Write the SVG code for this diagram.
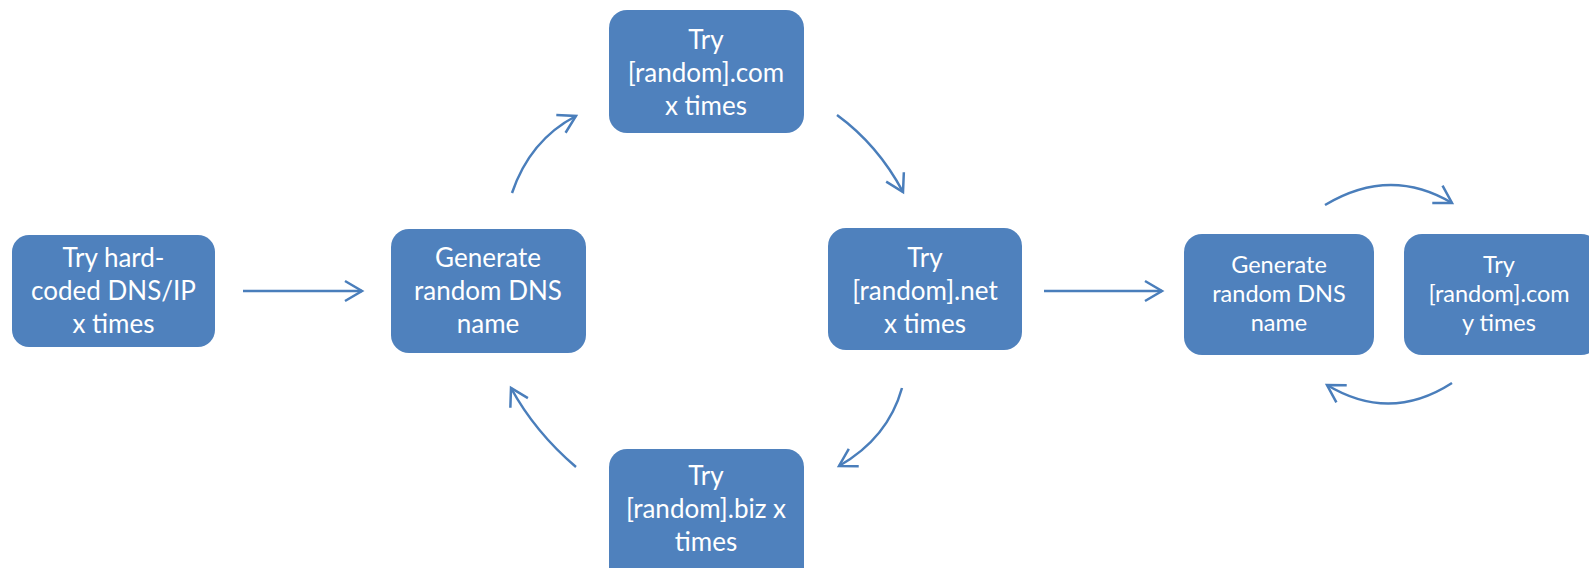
<svg xmlns="http://www.w3.org/2000/svg" width="1589" height="568" viewBox="0 0 1589 568">
<style>
.box{fill:#4F81BD;}
.t{font-family:Lato,"Open Sans","Liberation Sans",sans-serif;font-size:26px;fill:#FFFFFF;text-anchor:middle;}
.ts{font-size:23.5px;}
.c{fill:none;stroke:#4A7EBB;stroke-width:2.5;marker-end:url(#ah);}
</style>
<defs>
<marker id="ah" viewBox="0 0 22 24" refX="19" refY="12" markerWidth="22" markerHeight="24" markerUnits="userSpaceOnUse" orient="auto">
<path d="M2,2 L19,12 L2,22" fill="none" stroke="#4A7EBB" stroke-width="2.5"/>
</marker>
</defs>
<g id="connectors">
<path class="c" d="M243,291 L362,291"/>
<path class="c" d="M512,193 Q530,140 576,116"/>
<path class="c" d="M837,115 Q878,145 903,192"/>
<path class="c" d="M902,388 Q888,438 839,466"/>
<path class="c" d="M576,467 Q535,432 511,388"/>
<path class="c" d="M1044,291 L1162,291"/>
<path class="c" d="M1325,205 Q1390,166 1452,203"/>
<path class="c" d="M1452,383 Q1390,423 1327,385"/>
</g>
<g id="n1"><rect class="box" x="12" y="235" width="203" height="112" rx="17"/>
<text class="t" x="113.5" y="267">Try hard-</text><text class="t" x="113.5" y="300">coded DNS/IP</text><text class="t" x="113.5" y="333">x times</text></g>
<g id="n2"><rect class="box" x="391" y="229" width="195" height="124" rx="18"/>
<text class="t" x="488" y="267">Generate</text><text class="t" x="488" y="300">random DNS</text><text class="t" x="488" y="333">name</text></g>
<g id="n3"><rect class="box" x="609" y="10" width="195" height="123" rx="18"/>
<text class="t" x="706" y="49">Try</text><text class="t" x="706" y="82">[random].com</text><text class="t" x="706" y="115">x times</text></g>
<g id="n4"><rect class="box" x="828" y="228" width="194" height="122" rx="18"/>
<text class="t" x="925" y="267">Try</text><text class="t" x="925" y="300">[random].net</text><text class="t" x="925" y="333">x times</text></g>
<g id="n5"><rect class="box" x="609" y="449" width="195" height="140" rx="18"/>
<text class="t" x="706" y="485">Try</text><text class="t" x="706" y="518">[random].biz x</text><text class="t" x="706" y="551">times</text></g>
<g id="n6"><rect class="box" x="1184" y="234" width="190" height="121" rx="18"/>
<text class="t ts" x="1279" y="273">Generate</text><text class="t ts" x="1279" y="302">random DNS</text><text class="t ts" x="1279" y="331">name</text></g>
<g id="n7"><rect class="box" x="1404" y="234" width="195" height="121" rx="18"/>
<text class="t ts" x="1499" y="273">Try</text><text class="t ts" x="1499" y="302">[random].com</text><text class="t ts" x="1499" y="331">y times</text></g>
</svg>
